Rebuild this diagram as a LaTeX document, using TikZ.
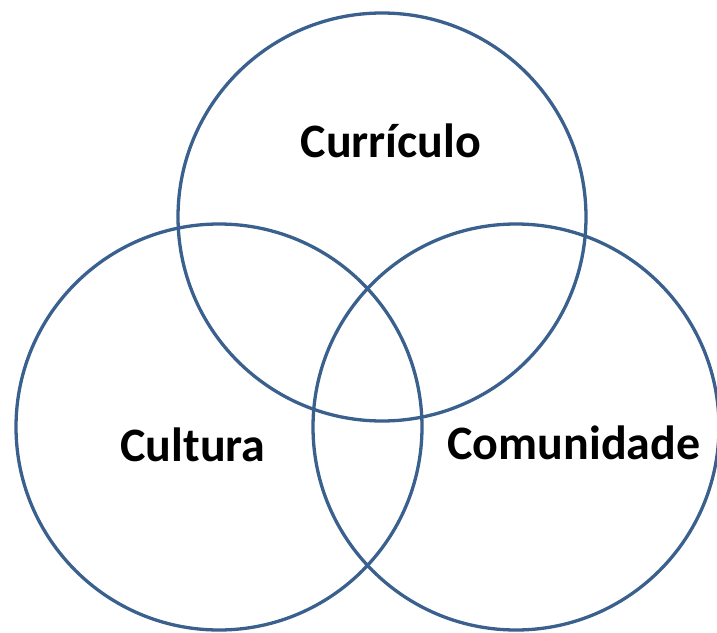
\documentclass[tikz,border=0pt]{standalone}
\usepackage{fontspec}
\setmainfont{Carlito}
\definecolor{ring}{RGB}{58,96,142}
\begin{document}
\begin{tikzpicture}[x=1pt,y=-1pt,
  ring/.style={draw=ring,line width=3.3pt},
  lbl/.style={anchor=base,font=\fontsize{48}{56}\selectfont\bfseries,inner sep=0pt}]
\useasboundingbox (0,0) rectangle (717,632);
\begin{scope}
\clip (0,0) rectangle (717,632);
\draw[ring] (382,217) circle[radius=204];
\draw[ring] (219,427) circle[radius=203];
\draw[ring] (516,427) circle[radius=203];
\end{scope}
\node[lbl] (curr) at (391,157) {Currículo};
\node[lbl] (cult) at (193,461) {Cultura};
\node[lbl] (comu) at (574,459) {Comunidade};
\end{tikzpicture}
\end{document}
